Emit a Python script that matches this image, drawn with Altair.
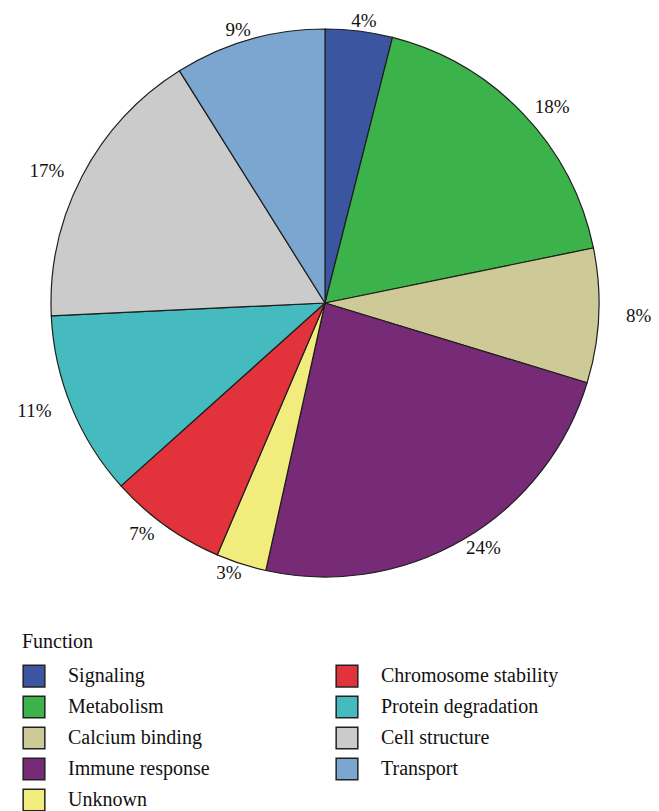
import altair as alt
import pandas as pd

# Functional categories, in the clockwise order of the slices
functions = [
    "Signaling", "Metabolism", "Calcium binding", "Immune response",
    "Unknown", "Chromosome stability", "Protein degradation",
    "Cell structure", "Transport",
]
percents = [4, 18, 8, 24, 3, 7, 11, 17, 9]
colors = [
    "#3B55A0", "#3BB24A", "#CDCA98", "#772A76",
    "#F1EC7C", "#E2333C", "#46BBBF", "#CBCBCB", "#7BA6D0",
]

df = pd.DataFrame({
    "Function": functions,
    "percent": percents,
    "slice": list(range(len(functions))),
    "label": [f"{p}%" for p in percents],
})

FONT = "Liberation Serif"
CX, CY = 325, 303          # pie centre in pixels
R_PIE = 274                # pie radius
RX_LAB, RY_LAB = 314, 284  # label ellipse radii

pie = alt.Chart(df).mark_arc(
    outerRadius=R_PIE, stroke="#1e1e1e", strokeWidth=1.2, x=CX, y=CY
).encode(
    theta=alt.Theta("percent:Q", stack=True),
    order=alt.Order("slice:Q", sort="ascending"),
    color=alt.Color(
        "Function:N",
        scale=alt.Scale(domain=functions, range=colors),
        legend=alt.Legend(
            title="Function",
            orient="none",
            legendX=22,
            legendY=632,
            columns=2,
            columnPadding=123,
            rowPadding=3,
            symbolType="square",
            symbolSize=470,
            symbolStrokeColor="#222222",
            symbolStrokeWidth=1.5,
            symbolOpacity=1,
            labelFont=FONT,
            labelFontSize=20,
            labelColor="#111111",
            labelOffset=22,
            labelLimit=400,
            titleFont=FONT,
            titleFontSize=20,
            titleFontWeight="normal",
            titleColor="#111111",
            titlePadding=12,
        ),
    ),
)

# Percentage labels placed around the pie at each slice's mid-angle
labels = alt.Chart(df).transform_joinaggregate(
    total="sum(percent)"
).transform_window(
    cum="sum(percent)", sort=[alt.SortField("slice")]
).transform_calculate(
    mid="(datum.cum - datum.percent / 2) / datum.total * 2 * PI",
    lx=f"{CX} + {RX_LAB} * sin(datum.mid)",
    ly=f"{CY} - {RY_LAB} * cos(datum.mid)",
).mark_text(
    font=FONT, fontSize=19, color="#111111"
).encode(
    x=alt.X("lx:Q", scale=None, axis=None),
    y=alt.Y("ly:Q", scale=None, axis=None),
    text="label:N",
)

chart = (
    (pie + labels)
    .properties(width=659, height=811, background="white", padding=0,
                autosize=alt.AutoSizeParams(type="none"))
    .configure_view(stroke=None)
)

chart.save("out.html", embed_options={"renderer": "svg", "actions": False})
